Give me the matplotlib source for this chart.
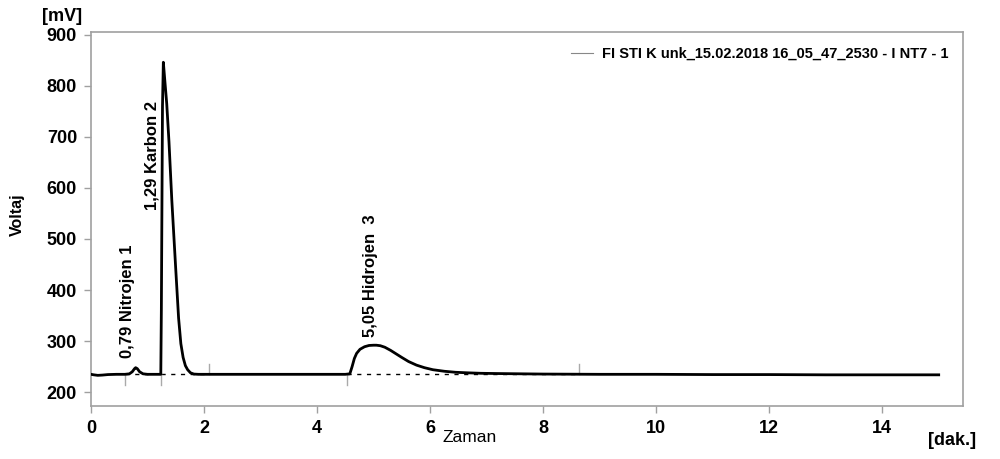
import matplotlib
matplotlib.use('Agg')
import matplotlib.pyplot as plt
from matplotlib.lines import Line2D

plt.rcParams['font.family'] = ['Liberation Sans', 'DejaVu Sans']

# %% chromatogram
zaman = [0.00, 0.05, 0.12, 0.20, 0.30, 0.45, 0.60, 0.68, 0.73, 0.77, 0.79,
         0.82, 0.86, 0.92, 1.00, 1.10, 1.20, 1.235, 1.245, 1.255, 1.265,
         1.28, 1.31, 1.34, 1.38, 1.43, 1.50, 1.55, 1.59, 1.63, 1.67, 1.71,
         1.76, 1.82, 1.90, 2.10, 3.00, 4.00, 4.50, 4.58, 4.62, 4.66, 4.70,
         4.76, 4.84, 4.92, 5.00, 5.05, 5.12, 5.20, 5.30, 5.40, 5.50, 5.62,
         5.76, 5.90, 6.05, 6.25, 6.45, 6.65, 6.90, 7.20, 7.60, 8.00, 9.00,
         10.0, 11.0, 12.0, 13.0, 14.0, 15.0]
voltaj = [235, 234, 233, 233.5, 234.5, 235, 235, 236, 240, 246, 248,
          246, 240, 236, 235, 235, 235, 235, 360, 560, 760,
          846, 805, 765, 690, 576, 440, 345, 295, 268, 252, 244,
          238, 235.5, 235, 235, 235, 235, 235, 236, 250, 266, 276,
          284, 289, 291.5, 292, 292, 291, 288, 282, 275, 268, 260,
          253, 248, 244, 241, 239, 238, 237, 236.5, 236, 235.5, 235,
          235, 234.5, 234.5, 234, 234, 234]

# peak labels
pik_t = [0.64, 1.08, 4.95]
pik_v = [267, 556, 308]
pik_txt = ['0,79 Nitrojen 1', '1,29 Karbon 2', '5,05 Hidrojen  3']

# integration baselines and markers
taban = [(0.60, 1.00), (1.23, 2.08), (4.53, 8.63)]
isaret_alt = [0.60, 1.23, 4.53]
isaret_ust = [2.08, 8.63]
taban_v = 235

fig = plt.figure(figsize=(10, 4.59), dpi=100)
ax = fig.add_axes([0.091, 0.1155, 0.872, 0.8145])

ax.plot(zaman, voltaj, color='black', lw=2.0, zorder=3)
for a, b in taban:
    ax.plot([a, b], [taban_v, taban_v], color='black', lw=1.0,
            ls=(0, (3, 4)), zorder=2)
for x in isaret_alt:
    ax.plot([x, x], [taban_v, taban_v - 21], color='#aaaaaa', lw=1.0)
for x in isaret_ust:
    ax.plot([x, x], [taban_v, taban_v + 21], color='#aaaaaa', lw=1.0)

for t, v, s in zip(pik_t, pik_v, pik_txt):
    ax.text(t, v, s, rotation=90, ha='center', va='bottom', fontsize=12,
            fontweight='bold')

ax.set_xlim(0, 15.43)
ax.set_ylim(173, 905)
ax.set_xticks([0, 2, 4, 6, 8, 10, 12, 14])
ax.set_yticks([200, 300, 400, 500, 600, 700, 800, 900])
for sp in ax.spines.values():
    sp.set_color('#a0a0a0')
    sp.set_linewidth(1.2)
ax.tick_params(colors='#a0a0a0', labelcolor='black', length=5, width=1)
ax.tick_params(axis='x', pad=5)
ax.tick_params(axis='y', pad=5)
for lab in ax.get_xticklabels() + ax.get_yticklabels():
    lab.set_fontsize(13)
    lab.set_fontweight('bold')

fig.text(0.017, 0.532, 'Voltaj', rotation=90, ha='center', va='center',
         fontsize=11.5, fontweight='bold')
fig.text(0.062, 0.963, '[mV]', ha='center', va='center', fontsize=13,
         fontweight='bold')
fig.text(0.470, 0.046, 'Zaman', ha='center', va='center', fontsize=12.5)
fig.text(0.952, 0.041, '[dak.]', ha='center', va='center', fontsize=13,
         fontweight='bold')

h = Line2D([], [], color='#888888', lw=0.8)
leg = ax.legend([h], ['FI STI K unk_15.02.2018 16_05_47_2530 - I NT7 - 1'],
                loc='upper right', bbox_to_anchor=(0.998, 0.995),
                frameon=False, handlelength=1.5, handletextpad=0.6,
                prop={'size': 10.5, 'weight': 'bold'})

fig.savefig('out.png', dpi=100)
